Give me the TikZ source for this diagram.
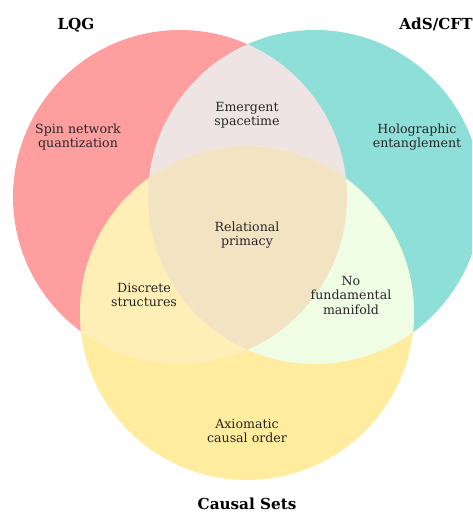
\documentclass[tikz,border=0pt]{standalone}
\usepackage{fontspec}
\setmainfont{DejaVu Serif}
\definecolor{cA}{HTML}{FF9E9E}
\definecolor{cB}{HTML}{8EDFD8}
\definecolor{cC}{HTML}{FFEC9E}
\definecolor{cAB}{HTML}{EEE4E3}
\definecolor{cAC}{HTML}{FFEEB6}
\definecolor{cBC}{HTML}{F0FDE5}
\definecolor{cABC}{HTML}{F2E3C3}
\tikzset{
  lbl/.style={align=center,font=\fontsize{12.6}{14.5}\selectfont,text=black!85,inner sep=0pt},
  ttl/.style={font=\fontsize{15.2}{17}\selectfont\bfseries,text=black,inner sep=0pt}
}
\begin{document}
\begin{tikzpicture}[x=1pt,y=-1pt]
\useasboundingbox (0,0) rectangle (472,512);
\clip (0,0) rectangle (472,512);
\def\A{(180,197) circle (167)}
\def\B{(315,197) circle (167)}
\def\C{(247,313) circle (167)}
\fill[cA] \A;
\fill[cB] \B;
\fill[cC] \C;
\begin{scope}\clip \A; \fill[cAB] \B;\end{scope}
\begin{scope}\clip \A; \fill[cAC] \C;\end{scope}
\begin{scope}\clip \B; \fill[cBC] \C;\end{scope}
\begin{scope}\clip \A; \clip \B; \fill[cABC] \C;\end{scope}
\node[ttl] (tA) at (76,25) {LQG};
\node[ttl] (tB) at (436,24) {AdS/CFT};
\node[ttl] (tC) at (247,504) {Causal Sets};
\node[lbl] (a) at (78,137) {Spin network\\quantization};
\node[lbl] (b) at (417,137) {Holographic\\entanglement};
\node[lbl] (ab) at (247,115) {Emergent\\spacetime};
\node[lbl] (abc) at (247,235) {Relational\\primacy};
\node[lbl] (ac) at (144,295) {Discrete\\structures};
\node[lbl] (bc) at (351,295) {No\\fundamental\\manifold};
\node[lbl] (c) at (247,431) {Axiomatic\\causal order};
\end{tikzpicture}
\end{document}
